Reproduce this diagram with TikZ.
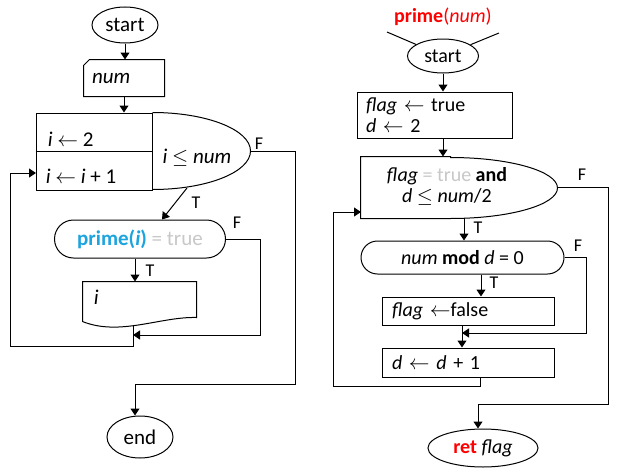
\documentclass[tikz,border=0pt]{standalone}
\usepackage{fontspec}
\setmainfont{Carlito}
\usetikzlibrary{shapes.geometric,shapes.misc,arrows.meta}
\definecolor{pblue}{RGB}{28,164,222}
\definecolor{lgray}{RGB}{200,200,200}
\definecolor{pred}{RGB}{255,0,0}
\begin{document}
\begin{tikzpicture}[x=1pt,y=-1pt,line width=1pt,
  font=\fontsize{20}{21}\selectfont,
  fl/.style={font=\fontsize{21}{22}\selectfont},
  arr/.style={-{Triangle[length=7pt,width=9pt]}},
  lab/.style={font=\fontsize{18}{20}\selectfont,inner sep=0},
  term/.style={ellipse,draw,inner sep=0},
  stad/.style={rounded rectangle,draw,inner sep=0},
  box/.style={draw,inner ysep=0,align=left}]
\fill[white] (0,0) rectangle (629,471);
\useasboundingbox (0,0) rectangle (629,471);

% ---------------- left flowchart ----------------
\node[term,fl,minimum width=66,minimum height=36] (startL) at (125,25) {start};
\node[fl,minimum width=80,minimum height=36,inner sep=0,text width=64,align=left] (num) at (124,78) {\textit{num}};
\draw ([yshift=-6pt]num.north west) -- ([xshift=6pt]num.north west) -- (num.north east) -- (num.south east) -- (num.south west) -- cycle;

\node[draw,minimum width=116,minimum height=77,inner sep=0] (lb) at (94,151.5) {};
\draw (lb.west) -- (lb.east);
\draw (lb.north east) arc(-90:90:98 and 38.5);
\node[fl,anchor=west] (i2) at (44,139) {\textit{i} $\leftarrow$ 2};
\node[fl,anchor=west] (iinc) at (42,176) {\textit{i} $\leftarrow$ \textit{i} + 1};
\node[fl] (icond) at (197,158) {\textit{i} $\le$ \textit{num}};
\coordinate (lbE) at (250,151.5);
\coordinate (lbT) at (187,188);
\coordinate (lbIn) at (36,173);

\node[stad,fl,minimum width=171,minimum height=38] (pr) at (140,239) {\textcolor{pblue}{\textbf{prime(\textit{i})}} \textcolor{lgray}{= true}};

\node[minimum width=113,minimum height=35,inner sep=0] (doc) at (139.5,299.5) {};
\draw (doc.north west) -- (doc.north east) -- (doc.south east) .. controls +(-36,-1) and +(37,15) .. ([yshift=-4pt]doc.south west) -- cycle;
\node[fl,anchor=west] (docT) at (90,297) {\textit{i}};
\coordinate (docB) at (133,325);
\coordinate (mergeL) at (133,335);
\coordinate (backL) at (10,346);

\node[term,fl,minimum width=66,minimum height=42] (endL) at (140,437) {end};

\draw[arr] (startL.south) -- (startL.south |- num.north);
\draw[arr] (num.south) -- (num.south |- lb.north);
\draw[arr] (lbT) -- ([xshift=22pt]pr.north);
\draw[arr] ([xshift=-5pt]pr.south) -- ([xshift=-5pt]pr.south |- doc.north);
\draw[arr] (pr.east) -- (260,239) |- (mergeL);
\draw[arr] (docB) |- (backL) |- (lbIn);
\draw[arr] (lbE) -- (295,151.5) |- (135,384) -- ([xshift=-5pt]endL.north);

\node[lab] at (259,144) {F};
\node[lab] at (196,203) {T};
\node[lab] at (237,223) {F};
\node[lab] at (150,271) {T};

% ---------------- right flowchart ----------------
\node (title) at (443,17) {\color{pred}\textbf{prime}(\textit{num})};
\node[term,minimum width=71,minimum height=34] (startR) at (443,56) {start};
\coordinate (la) at (387,32);
\coordinate (ra) at (499,33);
\draw (la) -- (startR);
\draw (ra) -- (startR);

\node[box,minimum width=155,minimum height=46,inner xsep=9,text width=137] (b1) at (434.5,115) {\textit{flag} $\leftarrow$ true\\\textit{d} $\leftarrow$ 2};

\node[minimum width=89,minimum height=61,inner sep=0] (ld) at (405.5,187.5) {};
\draw (ld.north east) -- (ld.north west) -- (ld.south west) -- (ld.south east) arc(90:-90:107 and 30.5) -- cycle;
\node[align=center] (ldT) at (447,186.5) {\textit{flag} \textcolor{lgray}{= true} \textbf{and}\\\textit{d} $\le$ \textit{num}/2};
\coordinate (ldE) at (557,187.5);
\coordinate (ldS) at (464,218);
\coordinate (ldIn) at (361,212);

\node[stad,minimum width=203,minimum height=33] (md) at (462.5,257.5) {\textit{num} \textbf{mod} \textit{d} = 0};
\node[box,minimum width=172,minimum height=28,inner xsep=10,text width=152] (b2) at (468,311) {\textit{flag} $\leftarrow$false};
\node[box,minimum width=172,minimum height=29,inner xsep=10,text width=152] (b3) at (468,362.5) {\textit{d} $\leftarrow$ \textit{d} + 1};
\coordinate (mergeR) at (462,333);
\coordinate (backR) at (333,386);

\node[term,minimum width=110,minimum height=38] (ret) at (483,448) {\textcolor{pred}{\textbf{ret}} \textit{flag}};

\draw[arr] (startR.south) -- (startR.south |- b1.north);
\draw[arr] ([xshift=8.5pt]b1.south) -- ([xshift=8.5pt]b1.south |- ld.north);
\draw[arr] (ldS) -- (ldS |- md.north);
\draw[arr] ([xshift=18.5pt]md.south) -- ([xshift=18.5pt]md.south |- b2.north);
\draw[arr] (md.east) -- (586,257.5) |- (mergeR);
\draw[arr] ([xshift=-6pt]b2.south) -- ([xshift=-6pt]b2.south |- b3.north);
\draw[arr] ([xshift=12pt]b3.south) |- (backR) |- (ldIn);
\draw[arr] (ldE) -- (608,187.5) |- (478,404) -- ([xshift=-5pt]ret.north);

\node[lab] at (582,175) {F};
\node[lab] at (478,228) {T};
\node[lab] at (578,246) {F};
\node[lab] at (494,283) {T};
\end{tikzpicture}
\end{document}
